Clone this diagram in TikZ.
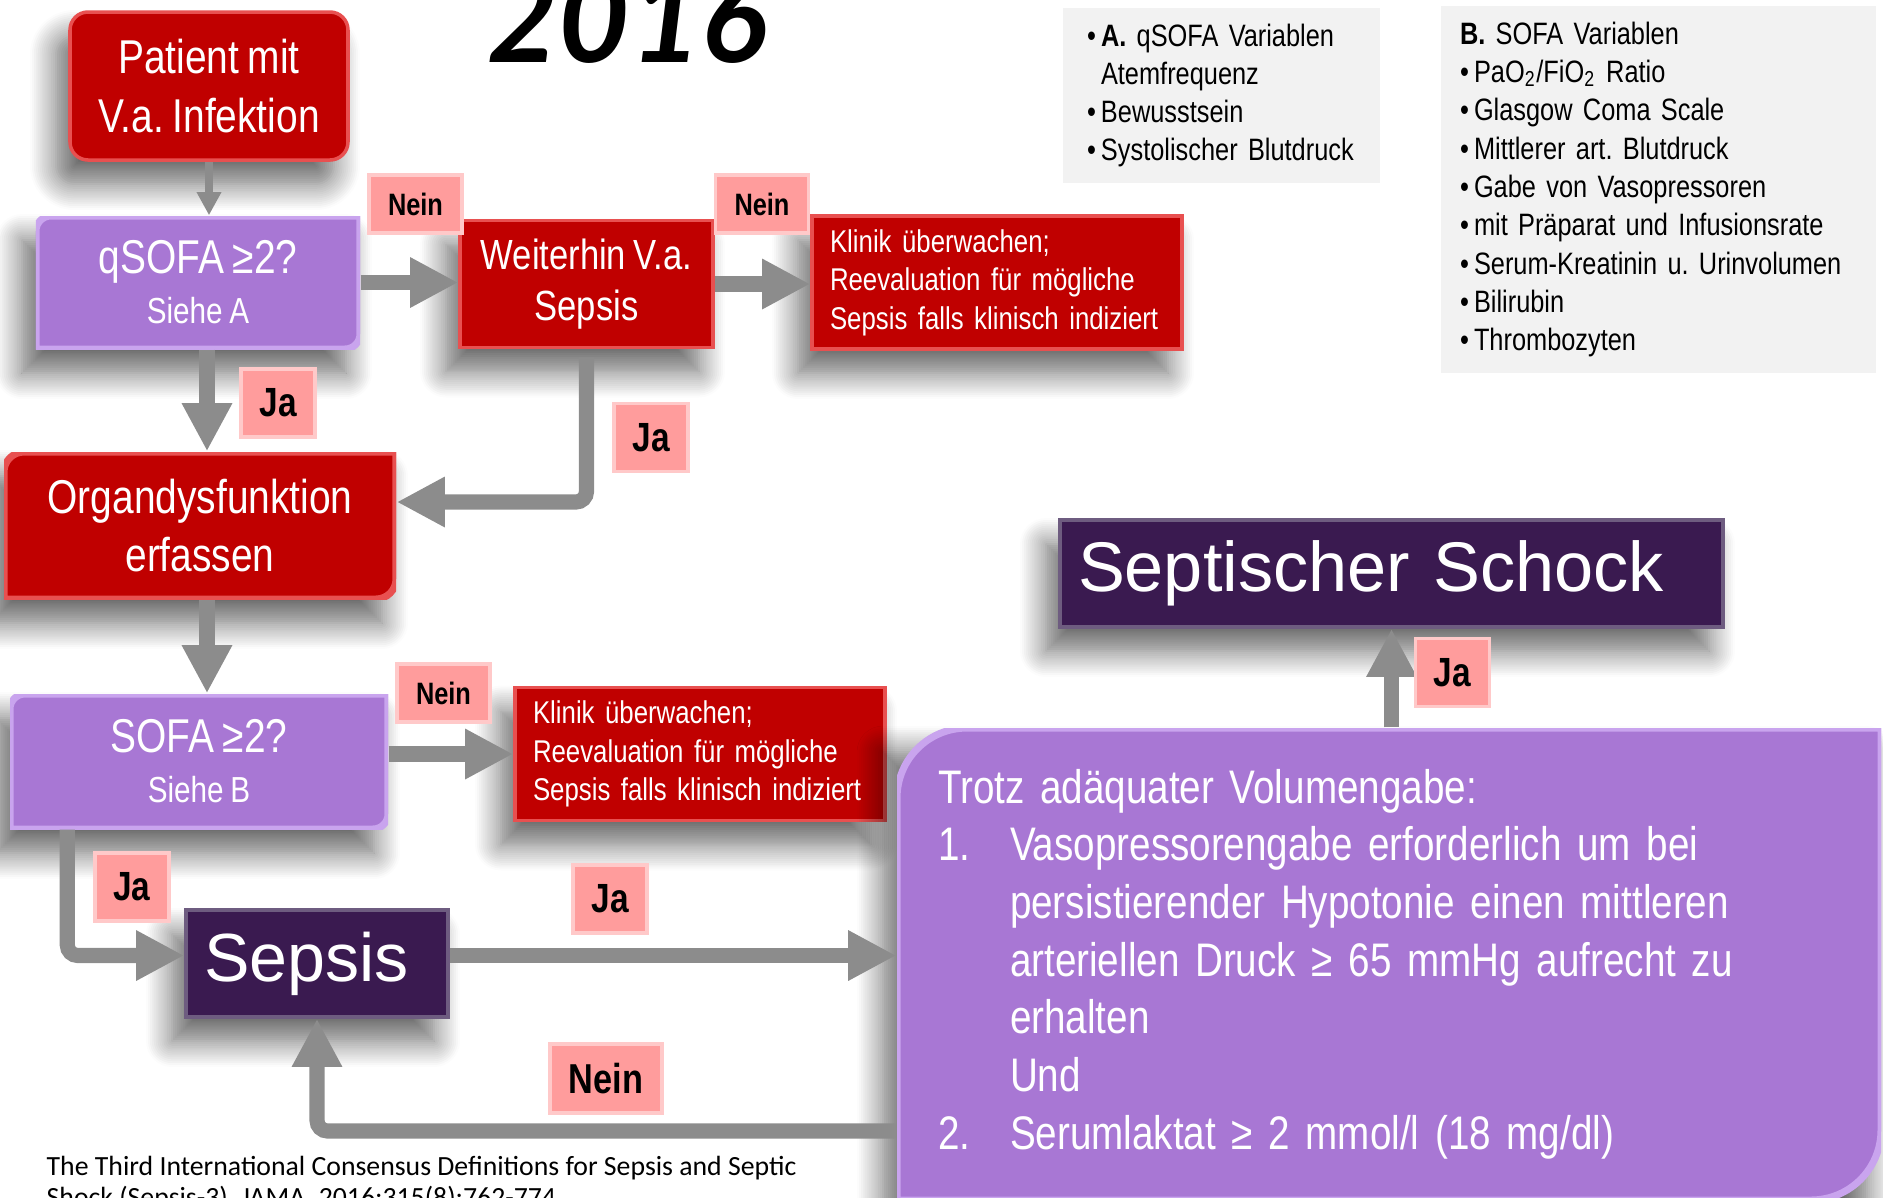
\documentclass[tikz,border=0pt]{standalone}
\usepackage{fontspec}
\setmainfont{Liberation Sans}
\newfontfamily\narrowfont[FakeStretch=0.82,WordSpace=0.8]{Liberation Sans}
\newfontfamily\calfont{Carlito}
\newfontfamily\yearfont{Lato}
\usepackage{xcolor}
\usepackage{tikz}
\usetikzlibrary{arrows.meta,positioning,calc,shadows.blur}
\frenchspacing
\hyphenpenalty=10000
\exhyphenpenalty=10000

\definecolor{redfill}{HTML}{C00000}
\definecolor{rededge}{HTML}{E85050}
\definecolor{purpfill}{HTML}{A877D4}
\definecolor{purpedge}{HTML}{C9A4EE}
\definecolor{nightfill}{HTML}{3A1A50}
\definecolor{nightedge}{HTML}{6E5C80}
\definecolor{pinkfill}{HTML}{FF9C9C}
\definecolor{pinkedge}{HTML}{FFC9C9}
\definecolor{panelgray}{HTML}{F2F2F2}
\definecolor{flowgray}{HTML}{8C8C8C}

\newcommand{\itemdot}{\makebox[0.14cm][l]{•}}
\newcommand{\numitem}[1]{\makebox[0.72cm][l]{#1}}
\newcommand{\numskip}{\hspace*{0.72cm}}

\begin{document}
\begin{tikzpicture}[
    softshadow/.style={blur shadow={shadow xshift=-0.14cm,shadow yshift=-0.24cm,shadow blur radius=0.26cm,shadow blur steps=14,shadow opacity=60}},
    flowbox/.style={softshadow,inner sep=0.18cm,text=white,align=center,font=\narrowfont\fontsize{13.5}{16.6}\selectfont},
    redbox/.style={flowbox,fill=redfill,draw=rededge,line width=1pt},
    nightbox/.style={flowbox,fill=nightfill,draw=nightedge,line width=1pt,align=left},
    cornerbox/.style 2 args={flowbox,path picture={
        \path[fill=#1fill,draw=#1edge,line width=2pt]
          ([yshift=-#2]path picture bounding box.north west)
          arc[start angle=180,end angle=90,radius=#2]
          -- (path picture bounding box.north east)
          -- ([yshift=#2]path picture bounding box.south east)
          arc[start angle=0,end angle=-90,radius=#2]
          -- (path picture bounding box.south west) -- cycle;}},
    noticebox/.style={redbox,align=left,text width=3.34cm,inner ysep=0.08cm,minimum height=1.33cm,font=\narrowfont\fontsize{8.95}{10.95}\selectfont},
    panel/.style={fill=panelgray,align=left,inner ysep=0pt,font=\narrowfont\fontsize{8.8}{10.9}\selectfont},
    tagnein/.style={fill=pinkfill,draw=pinkedge,line width=1pt,minimum width=0.93cm,minimum height=0.58cm,inner sep=0pt,font=\narrowfont\bfseries\fontsize{8.8}{10}\selectfont},
    tagja/.style={tagnein,minimum width=0.74cm,minimum height=0.68cm,font=\narrowfont\bfseries\fontsize{11.6}{13}\selectfont},
    flow/.style={draw=flowgray,line width=4.3pt,rounded corners=3pt,-{Triangle[width=13.4pt,length=13.7pt]}},
    thinflow/.style={draw=flowgray,line width=2.3pt,-{Triangle[width=6.6pt,length=6.6pt]}}]
  \useasboundingbox (0,0) rectangle (18.83,-11.97);

  % left column
  \node[redbox,rounded corners=0.18cm,minimum width=2.78cm,minimum height=1.48cm] (patient) at (2.09,-0.86) {Patient mit\\V.a. Infektion};
  \node[cornerbox={purp}{0.15cm},minimum width=3.24cm,minimum height=1.33cm] (qsofa) at (1.98,-2.825) {qSOFA ≥2?\\[-2.4pt]{\fontsize{10.3}{12}\selectfont Siehe A}};
  \node[redbox,minimum width=2.53cm,minimum height=1.22cm,font=\narrowfont\fontsize{12}{14.7}\selectfont] (weiter) at (5.865,-2.84) {Weiterhin V.a.\\Sepsis};
  \node[noticebox] (klinikA) at (9.97,-2.825) {Klinik überwachen;\\Reevaluation für mögliche\\Sepsis~falls~klinisch~indiziert};
  \node[cornerbox={red}{0.2cm},minimum width=3.92cm,minimum height=1.47cm] (organ) at (2.0,-5.255) {Organdysfunktion\\erfassen};
  \node[cornerbox={purp}{0.15cm},minimum width=3.78cm,minimum height=1.35cm] (sofa) at (1.99,-7.615) {SOFA ≥2?\\[-2.4pt]{\fontsize{10.3}{12}\selectfont Siehe B}};
  \node[noticebox] (klinikB) at (7.0,-7.54) {Klinik überwachen;\\Reevaluation für mögliche\\Sepsis~falls~klinisch~indiziert};
  \node[nightbox,text width=2.26cm,minimum height=1.07cm,font=\fontsize{19.4}{23}\selectfont] (sepsis) at (3.17,-9.635) {Sepsis};

  % right side
  \node[nightbox,text width=6.27cm,minimum height=1.07cm,font=\fontsize{20}{24}\selectfont] (schock) at (13.915,-5.735) {Septischer Schock};
  \node[cornerbox={purp}{0.7cm},align=left,inner xsep=0.41cm,text width=9.02cm,minimum height=4.72cm,font=\narrowfont\fontsize{13.4}{16.4}\selectfont] (volumen) at (13.89,-9.64) {Trotz adäquater Volumengabe:\\
    \numitem{1.}Vasopressorengabe erforderlich um bei\\
    \numskip persistierender Hypotonie einen mittleren\\
    \numskip arteriellen Druck ≥ 65 mmHg aufrecht zu\\
    \numskip erhalten\\
    \numskip Und\\
    \numitem{2.}Serumlaktat ≥ 2 mmol/l (18 mg/dl)};

  \node[panel,inner xsep=0.24cm,text width=2.69cm,minimum height=1.75cm] (varA) at (12.215,-0.955) {\itemdot\textbf{A.} qSOFA~Variablen\\
    \hspace*{0.14cm}Atemfrequenz\\
    \itemdot Bewusstsein\\
    \itemdot Systolischer~Blutdruck};
  \node[panel,inner xsep=0.19cm,text width=3.97cm,minimum height=3.67cm] (varB) at (16.585,-1.895) {\textbf{B.} SOFA Variablen\\
    \itemdot PaO\textsubscript{2}/FiO\textsubscript{2} Ratio\\
    \itemdot Glasgow Coma Scale\\
    \itemdot Mittlerer art. Blutdruck\\
    \itemdot Gabe von Vasopressoren\\
    \itemdot mit~Präparat~und~Infusionsrate\\
    \itemdot Serum-Kreatinin~u.~Urinvolumen\\
    \itemdot Bilirubin\\
    \itemdot Thrombozyten};

  \node[anchor=base east,inner sep=0pt,font=\yearfont\bfseries\itshape\fontsize{35}{35}\selectfont] (jahr) at (7.68,-0.62) {2016};
  \node[anchor=north west,inner sep=0pt,align=left,font=\calfont\fontsize{7.9}{9.1}\selectfont] (quelle) at (0.46,-11.55) {The Third International Consensus Definitions for Sepsis and Septic\\Shock (Sepsis-3). JAMA. 2016;315(8):762-774};

  % connectors
  \coordinate (spine) at (2.07,0);
  \draw[thinflow] (patient.south) -- (patient.south |- qsofa.north);
  \draw[flow] (qsofa.east) -- (qsofa.east -| weiter.west);
  \draw[flow] (weiter.east) -- (weiter.east -| klinikA.west);
  \draw[flow] (qsofa.south -| spine) -- (organ.north -| spine);
  \draw[flow] ([yshift=-0.08cm]weiter.south) |- ([yshift=0.235cm]organ.east);
  \draw[flow] (organ.south -| spine) -- (sofa.north -| spine);
  \draw[flow] (sofa.east |- klinikB.west) -- (klinikB.west);
  \draw[flow] ([xshift=0.58cm]sofa.south west) |- ([yshift=0.08cm]sepsis.west);
  \draw[flow] ([yshift=0.08cm]sepsis.east) -- ([yshift=0.08cm]sepsis.east -| volumen.west);
  \draw[flow] ([yshift=-1.67cm]volumen.west) -| (sepsis.south);
  \draw[flow] (volumen.north -| schock.south) -- (schock.south);

  % answers
  \node[tagnein] (neinA) at (4.155,-2.04) {Nein};
  \node[tagnein] (neinB) at (7.62,-2.04) {Nein};
  \node[tagnein] (neinC) at (4.435,-6.93) {Nein};
  \node[tagnein,minimum width=1.12cm,minimum height=0.69cm,font=\narrowfont\bfseries\fontsize{11.9}{13}\selectfont] (neinD) at (6.06,-10.785) {Nein};
  \node[tagja] (jaA) at (2.78,-4.03) {Ja};
  \node[tagja] (jaB) at (6.51,-4.375) {Ja};
  \node[tagja] (jaC) at (1.32,-8.87) {Ja};
  \node[tagja] (jaD) at (6.10,-8.99) {Ja};
  \node[tagja] (jaE) at (14.525,-6.725) {Ja};
\end{tikzpicture}
\end{document}
